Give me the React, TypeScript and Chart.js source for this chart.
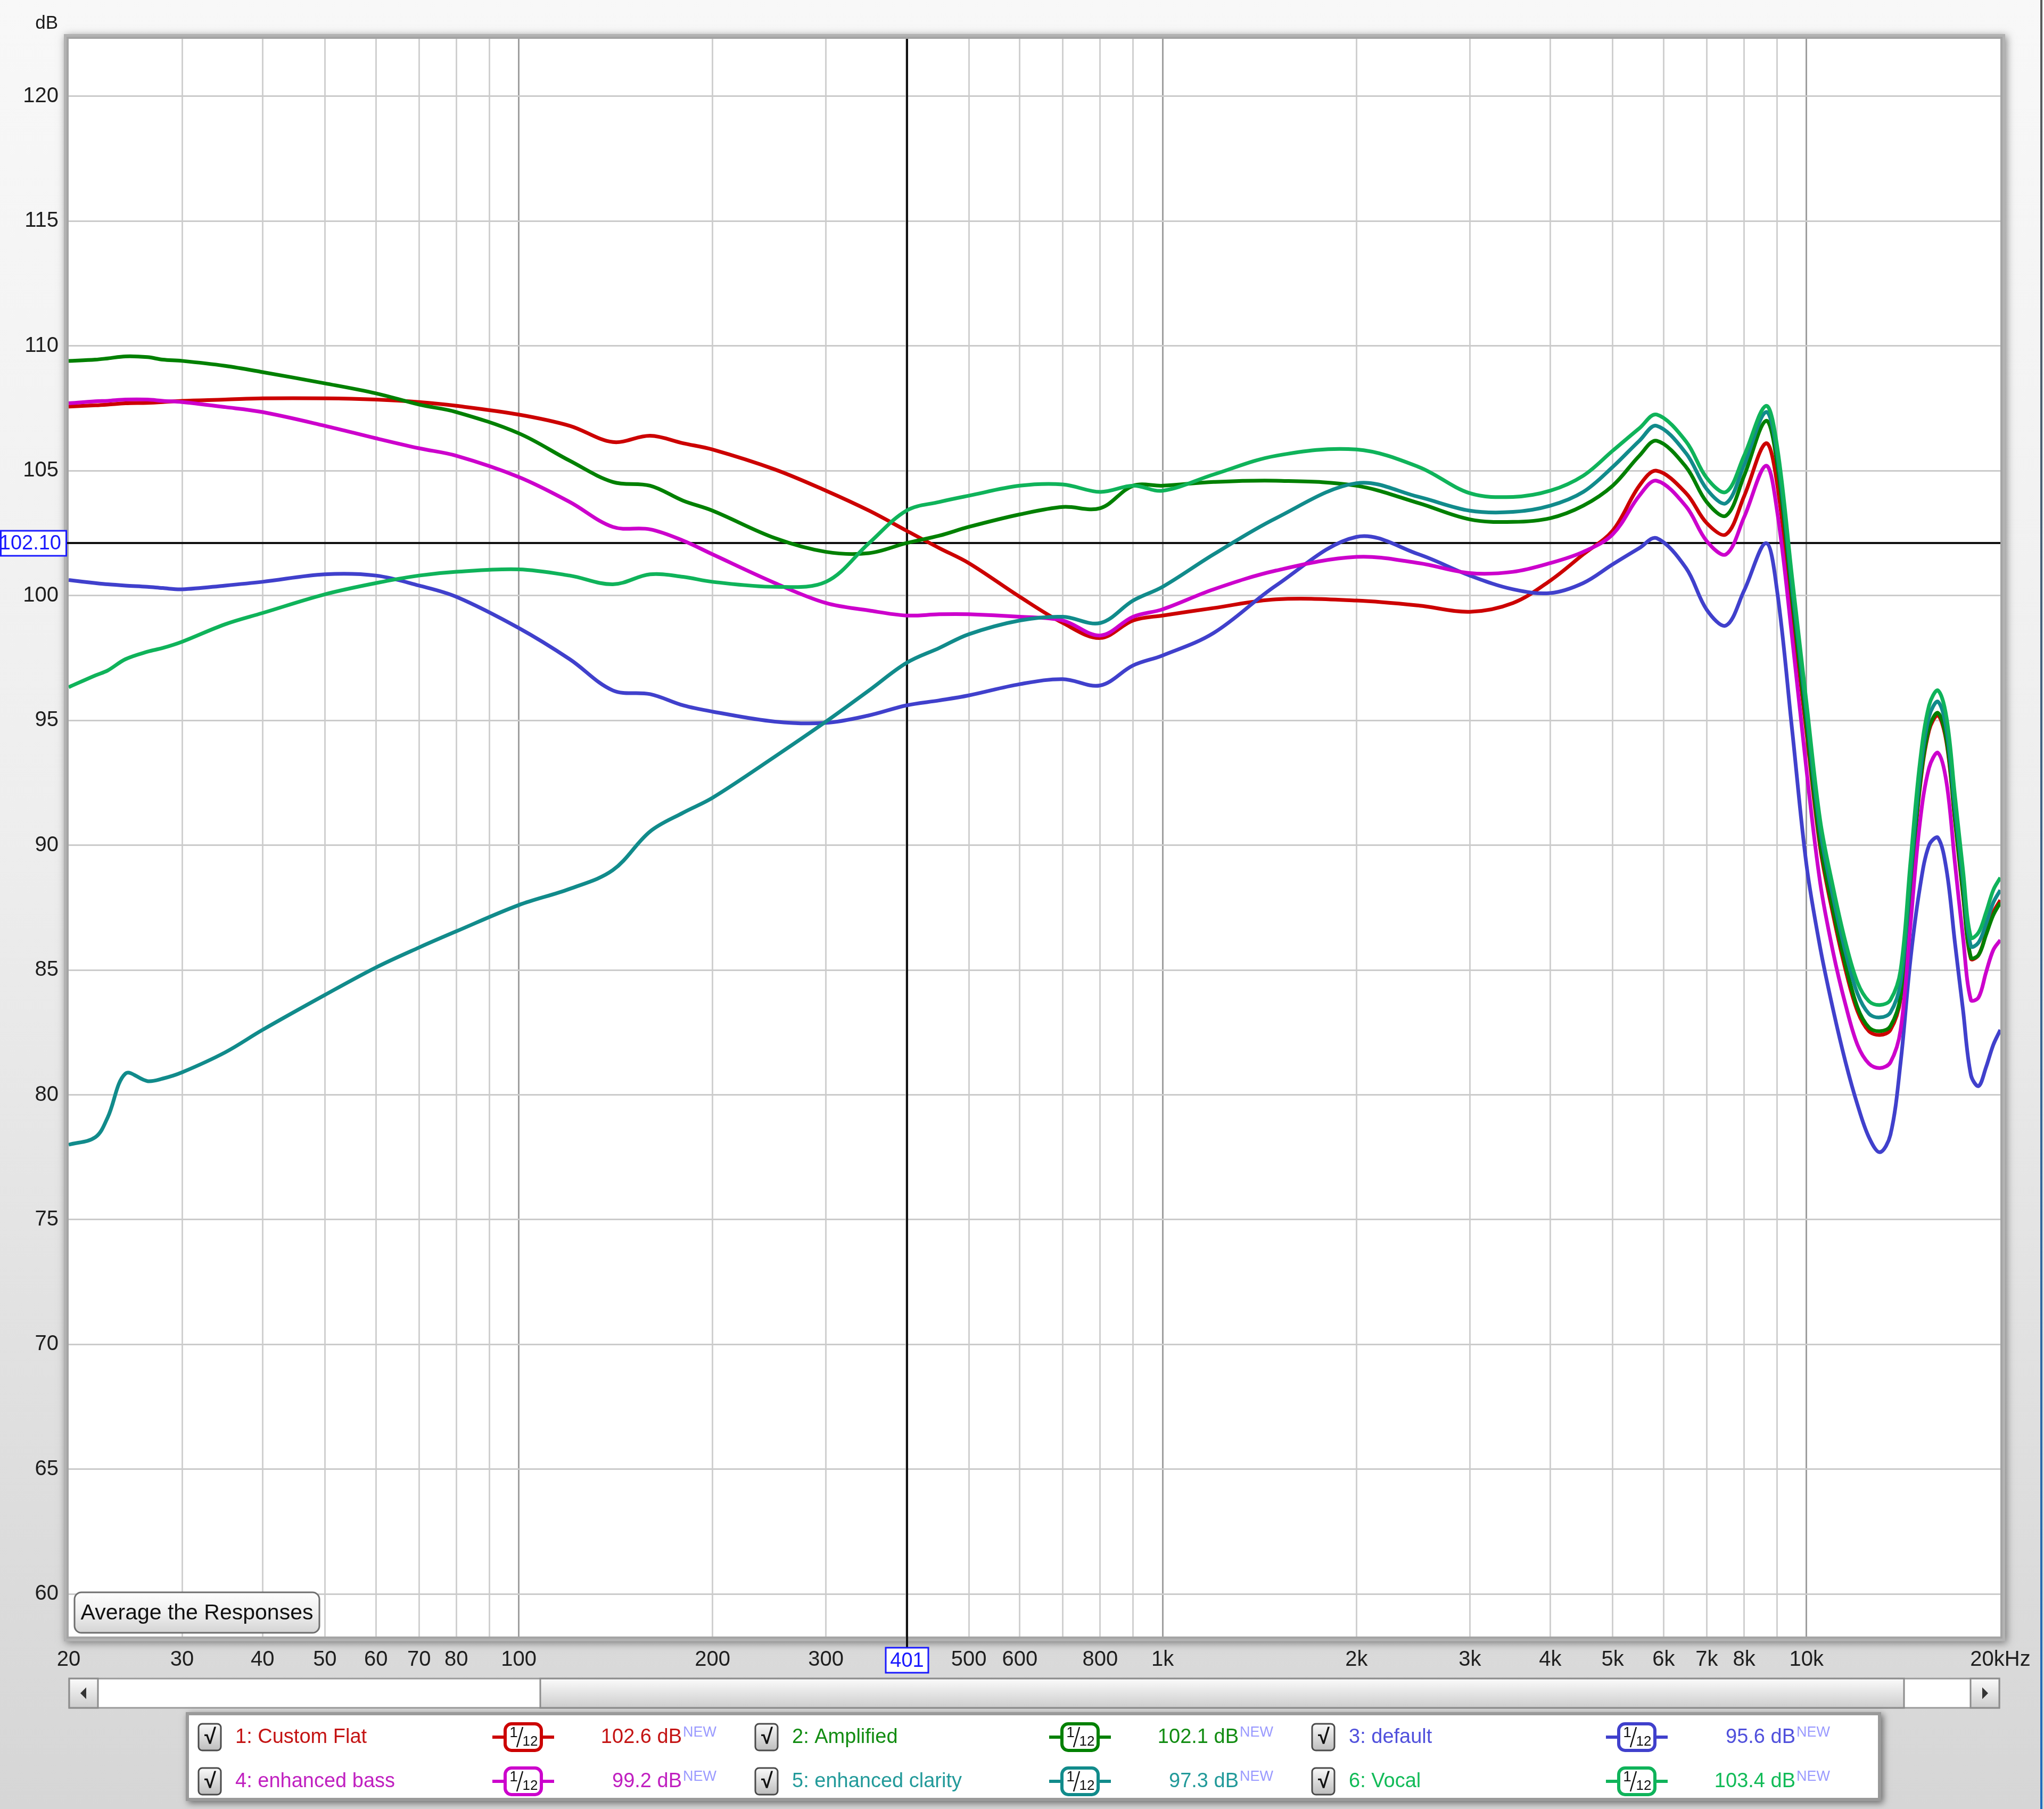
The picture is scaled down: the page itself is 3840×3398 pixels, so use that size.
import React, { useEffect, useRef } from 'react';
import { Chart, registerables } from 'chart.js';

Chart.register(...registerables);

const FREQ = [20, 22, 23, 24.5, 26.5, 28, 30, 35, 40, 50, 60, 70, 80, 100, 120, 140, 160, 180, 200, 250, 300, 350, 400, 450, 500, 600, 700, 800, 900, 1000, 1200, 1500, 2000, 2500, 3000, 3500, 4000, 4500, 5000, 5500, 5850, 6500, 7000, 7500, 8000, 8650, 9000, 9500, 10000, 10500, 11000, 11500, 12000, 12500, 13000, 13500, 14000, 14500, 15000, 15500, 16000, 16500, 17000, 17500, 18000, 18500, 19000, 19500, 20000];

const CUSTOM_FLAT = [107.57, 107.62, 107.65, 107.7, 107.72, 107.75, 107.8, 107.85, 107.9, 107.9, 107.85, 107.75, 107.6, 107.25, 106.8, 106.15, 106.4, 106.1, 105.85, 105.05, 104.2, 103.4, 102.6, 101.9, 101.3, 99.95, 98.9, 98.3, 99.0, 99.2, 99.5, 99.85, 99.8, 99.6, 99.35, 99.7, 100.6, 101.65, 102.6, 104.4, 105.0, 104.1, 102.9, 102.45, 103.98, 106.1, 104.5, 99.4, 94.5, 89.9, 87.2, 85.0, 83.35, 82.55, 82.4, 82.6, 83.85, 88.2, 92.3, 94.6, 95.2, 94.1, 91.0, 88.0, 85.45, 85.6, 86.45, 87.3, 87.8];

const AMPLIFIED = [109.4, 109.45, 109.5, 109.58, 109.55, 109.45, 109.4, 109.2, 108.95, 108.5, 108.1, 107.65, 107.35, 106.5, 105.4, 104.55, 104.4, 103.8, 103.4, 102.3, 101.75, 101.7, 102.1, 102.4, 102.75, 103.25, 103.55, 103.5, 104.4, 104.4, 104.55, 104.6, 104.4, 103.7, 103.05, 102.95, 103.1, 103.6, 104.4, 105.6, 106.2, 105.15, 103.74, 103.2, 104.8, 107.0, 105.3, 99.9, 94.8, 90.1, 87.4, 85.2, 83.5, 82.7, 82.55, 82.75, 83.95, 88.3, 92.4, 94.7, 95.3, 94.2, 91.1, 88.1, 85.5, 85.6, 86.4, 87.2, 87.7];

const DEFAULT_RESP = [100.62, 100.5, 100.45, 100.4, 100.35, 100.3, 100.25, 100.4, 100.55, 100.85, 100.8, 100.4, 99.95, 98.7, 97.45, 96.2, 96.05, 95.6, 95.35, 94.95, 94.9, 95.2, 95.6, 95.8, 96.0, 96.45, 96.65, 96.4, 97.2, 97.6, 98.5, 100.4, 102.35, 101.65, 100.8, 100.25, 100.1, 100.5, 101.25, 101.9, 102.3, 101.1, 99.43, 98.8, 100.2, 102.1, 100.2, 94.6, 89.2, 85.9, 83.4, 81.3, 79.6, 78.3, 77.7, 78.4, 81.3, 85.4, 88.3, 90.0, 90.3, 89.0, 86.1, 83.4, 80.8, 80.35, 81.1, 82.0, 82.6];

const ENHANCED_BASS = [107.7, 107.78, 107.8, 107.85, 107.85, 107.8, 107.75, 107.55, 107.35, 106.8, 106.3, 105.9, 105.6, 104.75, 103.75, 102.75, 102.65, 102.2, 101.65, 100.5, 99.7, 99.4, 99.2, 99.25, 99.25, 99.15, 99.0, 98.4, 99.15, 99.45, 100.25, 101.0, 101.55, 101.3, 100.9, 100.95, 101.3, 101.75, 102.45, 104.0, 104.6, 103.57, 102.18, 101.65, 103.14, 105.2, 103.4, 98.3, 93.0, 88.5, 85.7, 83.6, 82.0, 81.25, 81.07, 81.3, 82.6, 86.8, 90.9, 93.1, 93.7, 92.5, 89.3, 86.3, 83.8, 83.9, 84.9, 85.8, 86.2];

const ENHANCED_CLARITY = [78.0, 78.3, 79.1, 80.85, 80.55, 80.65, 80.9, 81.7, 82.6, 84.0, 85.1, 85.9, 86.55, 87.6, 88.25, 89.0, 90.55, 91.3, 91.9, 93.55, 94.95, 96.2, 97.3, 97.9, 98.45, 99.0, 99.15, 98.9, 99.8, 100.35, 101.65, 103.1, 104.5, 103.95, 103.4, 103.35, 103.6, 104.15, 105.15, 106.2, 106.8, 105.7, 104.26, 103.7, 105.23, 107.35, 105.7, 100.3, 95.3, 90.6, 87.9, 85.7, 84.05, 83.25, 83.1, 83.3, 84.5, 88.8, 92.8, 95.15, 95.75, 94.6, 91.5, 88.6, 85.95, 86.1, 86.85, 87.7, 88.2];

const VOCAL = [96.33, 96.8, 97.0, 97.45, 97.75, 97.9, 98.15, 98.85, 99.3, 100.05, 100.5, 100.8, 100.95, 101.05, 100.8, 100.45, 100.85, 100.75, 100.55, 100.35, 100.55, 102.1, 103.4, 103.75, 104.0, 104.4, 104.45, 104.15, 104.4, 104.2, 104.85, 105.6, 105.85, 105.15, 104.1, 103.95, 104.2, 104.8, 105.8, 106.7, 107.25, 106.17, 104.71, 104.15, 105.6, 107.6, 106.0, 100.7, 95.7, 91.0, 88.3, 86.1, 84.5, 83.75, 83.6, 83.8, 85.0, 89.3, 93.3, 95.6, 96.2, 95.1, 92.0, 89.0, 86.3, 86.5, 87.3, 88.2, 88.7];

const SERIES_DATA = [CUSTOM_FLAT, AMPLIFIED, DEFAULT_RESP, ENHANCED_BASS, ENHANCED_CLARITY, VOCAL];
const SERIES_NAMES = ['1: Custom Flat', '2: Amplified', '3: default', '4: enhanced bass', '5: enhanced clarity', '6: Vocal'];
const CURSOR_VALUES = ['102.6 dB', '102.1 dB', '95.6 dB', '99.2 dB', '97.3 dB', '103.4 dB'];
const LINE_COLORS = ['#cc0000', '#008000', '#4040cc', '#cc00cc', '#118b8b', '#0fb35a'];
const TEXT_COLORS = ['#c41414', '#128c12', '#5050dc', '#c020c0', '#229a9a', '#12bb58'];

const X_TICKS = [20, 30, 40, 50, 60, 70, 80, 90, 100, 200, 300, 400, 500, 600, 700, 800, 900, 1000, 2000, 3000, 4000, 5000, 6000, 7000, 8000, 9000, 10000, 20000];
const X_LABELS = ['20', '30', '40', '50', '60', '70', '80', '', '100', '200', '300', '', '500', '600', '', '800', '', '1k', '2k', '3k', '4k', '5k', '6k', '7k', '8k', '', '10k', '20kHz'];
const Y_TICKS = [60, 65, 70, 75, 80, 85, 90, 95, 100, 105, 110, 115, 120];
const MAJOR_X = [100, 1000, 10000];

const X_MIN = 20;
const X_MAX = 20000;
const Y_MIN = 58.3;
const Y_MAX = 122.3;
const CURSOR_FREQ = 401;
const CURSOR_DB = 102.1;
const CURSOR_FREQ_LABEL = '401';
const CURSOR_DB_LABEL = '102.10';
const Y_UNIT = 'dB';
const BUTTON_TEXT = 'Average the Responses';
const FILTER_NUM = '1';
const FILTER_DEN = '12';

const FONT = '"Liberation Sans", Arial, sans-serif';

function roundRect(ctx: CanvasRenderingContext2D, x: number, y: number, w: number, h: number, r: number) {
  ctx.beginPath();
  ctx.moveTo(x + r, y);
  ctx.arcTo(x + w, y, x + w, y + h, r);
  ctx.arcTo(x + w, y + h, x, y + h, r);
  ctx.arcTo(x, y + h, x, y, r);
  ctx.arcTo(x, y, x + w, y, r);
  ctx.closePath();
}

const bgPlugin = {
  id: 'rewBackground',
  beforeDraw(chart: any) {
    const { ctx, chartArea: a, width, height } = chart;
    ctx.save();
    const g = ctx.createLinearGradient(0, 0, 0, height);
    g.addColorStop(0, '#f8f8f8');
    g.addColorStop(0.45, '#eeeeee');
    g.addColorStop(0.9, '#dadada');
    g.addColorStop(1, '#d6d6d6');
    ctx.fillStyle = g;
    ctx.fillRect(0, 0, width, height);
    const eg = ctx.createLinearGradient(0, 0, 0, height);
    eg.addColorStop(0, '#5a5a5a');
    eg.addColorStop(1, '#1f6fbf');
    ctx.fillStyle = eg;
    ctx.fillRect(width - 7, 0, 4, height);
    ctx.shadowColor = 'rgba(0,0,0,0.45)';
    ctx.shadowBlur = 14;
    ctx.shadowOffsetX = 3;
    ctx.shadowOffsetY = 3;
    ctx.fillStyle = '#b2b2b2';
    ctx.fillRect(a.left - 9, a.top - 9, a.width + 18, a.height + 18);
    ctx.shadowColor = 'rgba(0,0,0,0)';
    ctx.fillStyle = '#a4a4a4';
    ctx.fillRect(a.left - 4, a.top - 4, a.width + 8, a.height + 8);
    ctx.fillStyle = '#ffffff';
    ctx.fillRect(a.left, a.top, a.width, a.height);
    ctx.restore();
  },
  beforeDatasetsDraw(chart: any) {
    const { ctx, chartArea: a, scales } = chart;
    const cx = Math.round(scales.x.getPixelForValue(CURSOR_FREQ));
    const cy = Math.round(scales.y.getPixelForValue(CURSOR_DB));
    ctx.save();
    ctx.strokeStyle = '#111111';
    ctx.lineWidth = 4;
    ctx.beginPath();
    ctx.moveTo(124, cy);
    ctx.lineTo(a.right, cy);
    ctx.moveTo(cx, a.top);
    ctx.lineTo(cx, a.bottom + 22);
    ctx.stroke();
    ctx.restore();
  },
  afterDatasetsDraw(chart: any) {
    const { ctx, chartArea: a } = chart;
    ctx.save();
    const bx = a.left + 11, by = a.bottom - 83, bw = 460, bh = 76;
    const g = ctx.createLinearGradient(0, by, 0, by + bh);
    g.addColorStop(0, '#fdfdfd');
    g.addColorStop(0.5, '#efefef');
    g.addColorStop(1, '#d4d4d4');
    roundRect(ctx, bx, by, bw, bh, 13);
    ctx.fillStyle = g;
    ctx.fill();
    ctx.lineWidth = 3;
    ctx.strokeStyle = '#6e6e6e';
    ctx.stroke();
    ctx.fillStyle = '#111111';
    ctx.font = `41px ${FONT}`;
    ctx.textAlign = 'center';
    ctx.textBaseline = 'middle';
    ctx.fillText(BUTTON_TEXT, bx + bw / 2, by + bh / 2 + 2);
    ctx.restore();
  },
  afterDraw(chart: any) {
    const { ctx, chartArea: a, scales } = chart;
    const cx = Math.round(scales.x.getPixelForValue(CURSOR_FREQ));
    const cy = Math.round(scales.y.getPixelForValue(CURSOR_DB));
    ctx.save();
    ctx.fillStyle = '#1a1a1a';
    ctx.font = `35px ${FONT}`;
    ctx.textAlign = 'right';
    ctx.textBaseline = 'alphabetic';
    ctx.fillText(Y_UNIT, 109, 54);

    ctx.lineWidth = 3;
    ctx.strokeStyle = '#1a1aff';
    ctx.fillStyle = '#ffffff';
    ctx.fillRect(1, cy - 23, 123, 47);
    ctx.strokeRect(1.5, cy - 23, 123, 47);
    ctx.fillStyle = '#1a1aff';
    ctx.font = `38px ${FONT}`;
    ctx.textAlign = 'right';
    ctx.textBaseline = 'middle';
    ctx.fillText(CURSOR_DB_LABEL, 115, cy + 2);

    const fbw = 80, fbh = 47, fby = a.bottom + 21;
    ctx.fillStyle = '#ffffff';
    ctx.fillRect(cx - fbw / 2, fby, fbw, fbh);
    ctx.strokeRect(cx - fbw / 2, fby, fbw, fbh);
    ctx.fillStyle = '#1a1aff';
    ctx.textAlign = 'center';
    ctx.fillText(CURSOR_FREQ_LABEL, cx, fby + fbh / 2 + 2);

    const sx = 130, sy = 3153, sw = 3626, sh = 55;
    ctx.fillStyle = '#ffffff';
    ctx.fillRect(sx, sy, sw, sh);
    ctx.strokeStyle = '#9a9a9a';
    ctx.lineWidth = 3;
    ctx.strokeRect(sx, sy, sw, sh);
    const drawBtn = (x0: number, w: number) => {
      const gg = ctx.createLinearGradient(0, sy, 0, sy + sh);
      gg.addColorStop(0, '#fbfbfb');
      gg.addColorStop(1, '#cdcdcd');
      ctx.fillStyle = gg;
      ctx.fillRect(x0, sy, w, sh);
      ctx.strokeStyle = '#8c8c8c';
      ctx.strokeRect(x0, sy, w, sh);
    };
    drawBtn(sx, 54);
    drawBtn(sx + sw - 54, 54);
    drawBtn(1015, 3577 - 1015);
    ctx.fillStyle = '#333333';
    ctx.beginPath();
    ctx.moveTo(sx + 21, sy + sh / 2);
    ctx.lineTo(sx + 32, sy + sh / 2 - 11);
    ctx.lineTo(sx + 32, sy + sh / 2 + 11);
    ctx.closePath();
    ctx.fill();
    ctx.beginPath();
    ctx.moveTo(sx + sw - 21, sy + sh / 2);
    ctx.lineTo(sx + sw - 32, sy + sh / 2 - 11);
    ctx.lineTo(sx + sw - 32, sy + sh / 2 + 11);
    ctx.closePath();
    ctx.fill();

    const lx = 355, ly = 3222, lw = 3173, lh = 155;
    ctx.save();
    ctx.shadowColor = 'rgba(0,0,0,0.5)';
    ctx.shadowBlur = 12;
    ctx.shadowOffsetX = 4;
    ctx.shadowOffsetY = 4;
    ctx.fillStyle = '#9a9a9a';
    ctx.fillRect(lx - 6, ly - 6, lw + 12, lh + 12);
    ctx.restore();
    ctx.fillStyle = '#ffffff';
    ctx.fillRect(lx, ly, lw, lh);

    const rows = [3263, 3346];
    const cols = [394, 1440, 2486];
    SERIES_NAMES.forEach((name, i) => {
      const x0 = cols[i % 3];
      const y0 = rows[Math.floor(i / 3)];
      const color = LINE_COLORS[i];
      const cg = ctx.createLinearGradient(0, y0 - 25, 0, y0 + 25);
      cg.addColorStop(0, '#fafafa');
      cg.addColorStop(1, '#bdbdbd');
      roundRect(ctx, x0 - 21, y0 - 25, 42, 50, 7);
      ctx.fillStyle = cg;
      ctx.fill();
      ctx.lineWidth = 3;
      ctx.strokeStyle = '#4a4a4a';
      ctx.stroke();
      ctx.fillStyle = '#111111';
      ctx.font = `bold 40px ${FONT}`;
      ctx.textAlign = 'center';
      ctx.textBaseline = 'middle';
      ctx.fillText('\u221A', x0 + 1, y0 + 1);
      ctx.fillStyle = TEXT_COLORS[i];
      ctx.font = `38px ${FONT}`;
      ctx.textAlign = 'left';
      ctx.fillText(name, x0 + 48, y0 + 1);
      const ix = x0 + 589;
      ctx.strokeStyle = color;
      ctx.lineWidth = 6;
      ctx.beginPath();
      ctx.moveTo(ix - 58, y0);
      ctx.lineTo(ix + 58, y0);
      ctx.stroke();
      roundRect(ctx, ix - 34, y0 - 25, 68, 50, 12);
      ctx.fillStyle = '#ffffff';
      ctx.fill();
      ctx.stroke();
      ctx.fillStyle = '#111111';
      ctx.font = `28px ${FONT}`;
      ctx.textAlign = 'center';
      ctx.fillText(FILTER_NUM, ix - 18, y0 - 8);
      ctx.font = `26px ${FONT}`;
      ctx.fillText(FILTER_DEN, ix + 13, y0 + 9);
      ctx.strokeStyle = '#111111';
      ctx.lineWidth = 2.5;
      ctx.beginPath();
      ctx.moveTo(ix - 12, y0 + 19);
      ctx.lineTo(ix - 1, y0 - 19);
      ctx.stroke();
      ctx.fillStyle = TEXT_COLORS[i];
      ctx.font = `38px ${FONT}`;
      ctx.textAlign = 'right';
      ctx.fillText(CURSOR_VALUES[i], x0 + 887, y0 + 1);
      ctx.fillStyle = '#9a9aff';
      ctx.font = `27px ${FONT}`;
      ctx.textAlign = 'left';
      ctx.fillText('NEW', x0 + 889, y0 - 8);
    });
    ctx.restore();
  },
};

export default function App() {
  const canvasRef = useRef<HTMLCanvasElement | null>(null);

  useEffect(() => {
    document.body.style.margin = '0';
    const canvas = canvasRef.current;
    if (!canvas) return;
    const datasets = SERIES_DATA.map((arr, i) => ({
      label: SERIES_NAMES[i],
      data: FREQ.map((f, j) => ({ x: f, y: arr[j] })),
      borderColor: LINE_COLORS[i],
      backgroundColor: LINE_COLORS[i],
      borderWidth: 7,
      pointRadius: 0,
      fill: false,
      tension: 0.35,
      order: SERIES_DATA.length - 1 - i,
    }));
    const chart = new Chart(canvas, {
      type: 'line',
      data: { datasets },
      plugins: [bgPlugin],
      options: {
        animation: false,
        responsive: false,
        maintainAspectRatio: false,
        devicePixelRatio: 1,
        events: [],
        layout: { padding: { top: 73, right: 82, bottom: 264, left: 0 } },
        plugins: {
          legend: { display: false },
          tooltip: { enabled: false },
          title: { display: false },
        },
        scales: {
          x: {
            type: 'logarithmic',
            min: X_MIN,
            max: X_MAX,
            afterBuildTicks: (s: any) => {
              s.ticks = X_TICKS.map((v) => ({ value: v }));
            },
            afterFit: (s: any) => {
              s.height = 60;
            },
            border: { display: false },
            grid: {
              drawTicks: false,
              lineWidth: 3,
              color: (c: any) => {
                const v = c.tick ? c.tick.value : null;
                if (v === X_MIN || v === X_MAX) return 'rgba(0,0,0,0)';
                return MAJOR_X.includes(v) ? '#9e9e9e' : '#d0d0d0';
              },
            },
            ticks: {
              autoSkip: false,
              maxRotation: 0,
              minRotation: 0,
              padding: 20,
              color: '#1e1e1e',
              font: { family: FONT, size: 40 },
              callback: (value: any) => {
                const idx = X_TICKS.indexOf(Number(value));
                return idx >= 0 ? X_LABELS[idx] : '';
              },
            },
          },
          y: {
            type: 'linear',
            min: Y_MIN,
            max: Y_MAX,
            afterBuildTicks: (s: any) => {
              s.ticks = Y_TICKS.map((v) => ({ value: v }));
            },
            afterFit: (s: any) => {
              s.width = 129;
            },
            border: { display: false },
            grid: { drawTicks: false, lineWidth: 3, color: '#cbcbcb' },
            ticks: {
              padding: 19,
              color: '#1e1e1e',
              font: { family: FONT, size: 40 },
              callback: (value: any) => String(value),
            },
          },
        },
      },
    } as any);
    return () => chart.destroy();
  }, []);

  return (
    <div style={{ position: 'absolute', left: 0, top: 0, width: 3840, height: 3398 }}>
      <canvas ref={canvasRef} width={3840} height={3398} style={{ display: 'block', width: 3840, height: 3398 }} />
    </div>
  );
}
